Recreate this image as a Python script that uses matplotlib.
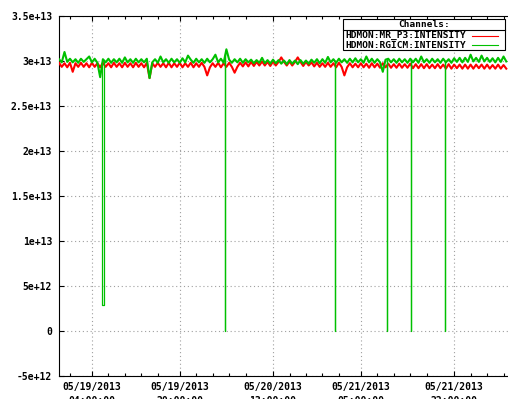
import matplotlib
matplotlib.use("Agg")
import matplotlib.pyplot as plt
from matplotlib.patches import Rectangle
from matplotlib.lines import Line2D
import numpy as np

# time axis: hours relative to 05/19/2013 00:00:00, one sample every half hour
T0 = -2.0
STEP = 0.5

# HDMON:MR_P3:INTENSITY (x 1e13)
mr_p3 = [
    2.98, 2.935, 2.975, 2.93, 2.98, 2.88, 2.975, 2.935, 2.98, 2.935,
    2.975, 2.93, 2.98, 2.935, 2.975, 2.93, 2.98, 2.935, 2.975, 2.93,
    2.98, 2.935, 2.975, 2.93, 2.98, 2.935, 2.975, 2.93, 2.98, 2.935,
    2.975, 2.93, 2.98, 2.81, 2.975, 2.935, 2.98, 2.935, 2.975, 2.93,
    2.98, 2.93, 2.975, 2.935, 2.98, 2.93, 2.975, 2.935, 2.98, 2.93,
    2.975, 2.935, 2.98, 2.935, 2.84, 2.93, 2.975, 2.935, 2.98, 2.93,
    2.975, 2.935, 2.98, 2.935, 2.87, 2.935, 2.98, 2.94, 2.985, 2.94,
    2.99, 2.945, 2.99, 2.95, 2.995, 2.95, 2.99, 2.945, 2.995, 2.95,
    2.99, 3.04, 2.99, 2.95, 2.995, 2.95, 2.99, 3.04, 2.99, 2.945,
    2.99, 2.95, 2.985, 2.94, 2.98, 2.935, 2.975, 2.935, 2.98, 2.935,
    2.975, 2.93, 2.98, 2.935, 2.84, 2.93, 2.975, 2.93, 2.97, 2.93,
    2.975, 2.93, 2.97, 2.925, 2.975, 2.93, 2.97, 2.925, 2.975, 2.93,
    2.97, 2.925, 2.965, 2.925, 2.97, 2.925, 2.965, 2.925, 2.97, 2.92,
    2.965, 2.92, 2.965, 2.92, 2.965, 2.92, 2.96, 2.92, 2.965, 2.92,
    2.96, 2.915, 2.965, 2.915, 2.96, 2.92, 2.96, 2.915, 2.96, 2.915,
    2.96, 2.915, 2.96, 2.92, 2.96, 2.915, 2.96, 2.915, 2.955, 2.915,
    2.96, 2.915, 2.955, 2.915,
]

# HDMON:RGICM:INTENSITY (x 1e13)
rgicm = [
    3.02, 2.985, 3.10, 2.99, 3.025, 2.985, 3.02, 2.98, 3.025, 2.99,
    3.02, 3.05, 2.985, 3.025, 2.98, 2.82, 3.02, 2.985, 3.025, 2.98,
    3.02, 2.985, 3.025, 2.98, 3.04, 2.985, 3.02, 2.98, 3.025, 2.985,
    3.02, 2.985, 3.025, 2.81, 2.985, 3.02, 2.98, 3.05, 2.985, 3.02,
    2.98, 3.025, 2.985, 3.02, 2.98, 3.03, 2.985, 3.06, 3.015, 2.98,
    3.025, 2.985, 3.02, 2.98, 3.025, 2.985, 3.02, 3.07, 2.985, 3.025,
    2.98, 3.13, 3.015, 2.98, 3.02, 2.985, 3.025, 2.98, 3.02, 2.985,
    3.015, 2.975, 3.01, 2.98, 3.035, 2.975, 3.01, 2.97, 3.015, 2.975,
    3.01, 2.97, 3.005, 2.965, 3.01, 2.97, 3.005, 2.965, 3.01, 2.97,
    3.005, 2.97, 3.015, 2.98, 3.02, 2.975, 3.02, 2.98, 3.045, 2.985,
    3.02, 2.98, 3.025, 2.985, 3.02, 2.98, 3.025, 2.985, 3.03, 2.985,
    3.02, 2.98, 3.05, 2.985, 3.025, 2.98, 3.02, 2.985, 2.88, 3.015,
    3.025, 2.985, 3.02, 2.98, 3.025, 2.985, 3.02, 2.98, 3.025, 2.985,
    3.025, 2.98, 3.05, 2.985, 3.02, 2.98, 3.025, 2.985, 3.02, 2.98,
    3.025, 2.985, 3.02, 2.98, 3.03, 2.99, 3.035, 2.985, 3.035, 2.99,
    3.07, 2.995, 3.035, 2.99, 3.06, 2.995, 3.035, 2.99, 3.03, 2.985,
    3.035, 2.99, 3.05, 2.995,
]

# beam drop-outs seen on RGICM (hours, level x 1e13)
drop_start = [5.87, 28.3, 48.2, 57.7, 62.1, 68.4]
drop_end = [6.18, 28.32, 48.22, 57.72, 62.12, 68.42]
drop_level = [0.29, 0.0, 0.0, 0.0, 0.0, 0.0]

tick_hours = [4, 20, 37, 53, 70]
tick_labels = ["05/19/2013\n04:00:00", "05/19/2013\n20:00:00", "05/20/2013\n13:00:00",
               "05/21/2013\n05:00:00", "05/21/2013\n22:00:00"]
y_ticks = [-5e12, 0, 5e12, 1e13, 1.5e13, 2e13, 2.5e13, 3e13, 3.5e13]
y_labels = ["-5e+12", "0", "5e+12", "1e+13", "1.5e+13", "2e+13", "2.5e+13", "3e+13", "3.5e+13"]

FONT = dict(family="DejaVu Sans Mono", weight="bold", size=7)
KEYFONT = dict(family="DejaVu Sans Mono", weight="bold", size=6.8)
RED = "#ff0000"
GREEN = "#00c000"
W, H = 508, 399


def px(x, y):
    """pixel (from top-left) -> figure fraction"""
    return x / W, 1 - y / H


# ── series ───────────────────────────────────────────────
t_r = T0 + STEP * np.arange(len(mr_p3))
v_r = np.array(mr_p3) * 1e13

t_g = T0 + STEP * np.arange(len(rgicm))
v_g = np.array(rgicm) * 1e13

# drop-out segments, drawn thin on top of the dense band
dt, dv = [], []
for s, e, lev in zip(drop_start, drop_end, drop_level):
    dt += [s, s, e, e, np.nan]
    dv += [np.interp(s, t_g, v_g), lev * 1e13, lev * 1e13, np.interp(e, t_g, v_g), np.nan]

# ── figure ───────────────────────────────────────────────
fig = plt.figure(figsize=(W / 100, H / 100), dpi=100)
l, b = px(59, 376)
r, t = px(520, 16)
ax = fig.add_axes([l, b, r - l, t - b])

ax.plot(t_r, v_r, color=RED, lw=1.5, zorder=3)
ax.plot(t_g, v_g, color=GREEN, lw=1.5, zorder=4)
ax.plot(dt, dv, color=GREEN, lw=0.9, zorder=4)

ax.set_xlim(-2, 4 + (520 - 92) / 5.515)
ax.set_ylim(-5e12, 3.5e13)

ax.set_xticks(tick_hours)
ax.set_xticklabels(tick_labels, fontdict=FONT, linespacing=1.55)
minor = [0] + [h + 3 * k for h in tick_hours for k in range(1, 5)]
ax.set_xticks(minor, minor=True)
ax.set_yticks(y_ticks)
ax.set_yticklabels(y_labels, fontdict=FONT)

ax.tick_params(axis="both", which="major", direction="in", length=3.5, width=0.8,
               top=True, right=True, color="black")
ax.tick_params(axis="x", which="minor", direction="in", length=2, width=0.8, top=True)
ax.tick_params(axis="x", which="major", pad=4)
ax.tick_params(axis="y", which="major", pad=5)

for sp in ax.spines.values():
    sp.set_linewidth(0.8)
    sp.set_color("black")

ax.grid(True, which="major", color="#a0a0a0", linestyle=(0, (1, 2.5)), linewidth=0.8)
ax.set_axisbelow(True)

# ── key box ──────────────────────────────────────────────
x0, y0 = px(343, 50)
x1, y1 = px(505, 19)
fig.add_artist(Rectangle((x0, y0), x1 - x0, y1 - y0, transform=fig.transFigure,
                         facecolor="white", edgecolor="black", lw=0.8, zorder=5))
sx0, sy = px(343, 30)
sx1, _ = px(505, 30)
fig.add_artist(Line2D([sx0, sx1], [sy, sy], transform=fig.transFigure,
                      color="black", lw=0.8, zorder=6))
cx, cy = px(424, 24.5)
fig.text(cx, cy, "Channels:", ha="center", va="center", zorder=7, **KEYFONT)
for name, col, yy in [("HDMON:MR_P3:INTENSITY", RED, 35.5),
                      ("HDMON:RGICM:INTENSITY", GREEN, 45)]:
    tx, ty = px(345, yy)
    fig.text(tx, ty, name, ha="left", va="center", zorder=7, **KEYFONT)
    lx0, ly = px(472, yy)
    lx1, _ = px(498, yy)
    fig.add_artist(Line2D([lx0, lx1], [ly, ly], transform=fig.transFigure,
                          color=col, lw=0.8, zorder=7))

fig.savefig("out.png", dpi=100)
